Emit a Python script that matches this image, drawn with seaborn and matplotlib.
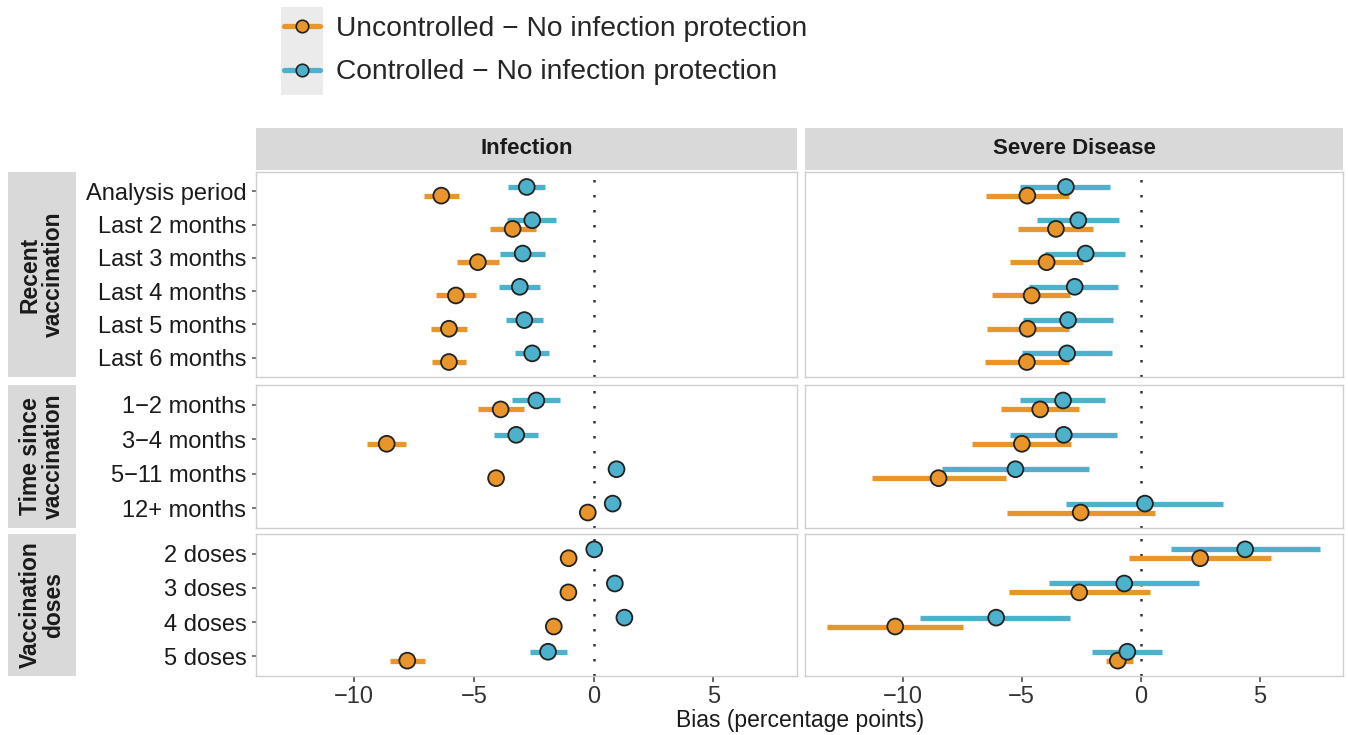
import seaborn as sns
import matplotlib.pyplot as plt
import pandas as pd
import numpy as np
from matplotlib.lines import Line2D
from matplotlib.patches import Rectangle

# Data
labels = ['Analysis period', 'Last 2 months', 'Last 3 months', 'Last 4 months',
          'Last 5 months', 'Last 6 months',
          '1\u22122 months', '3\u22124 months', '5\u221211 months', '12+ months',
          '2 doses', '3 doses', '4 doses', '5 doses']
groups = ['Recent\nvaccination'] * 6 + ['Time since\nvaccination'] * 4 + ['Vaccination\ndoses'] * 4
group_names = ['Recent\nvaccination', 'Time since\nvaccination', 'Vaccination\ndoses']
outcomes = ['Infection', 'Severe Disease']
UNC = 'Uncontrolled \u2212 No infection protection'
CTL = 'Controlled \u2212 No infection protection'

# Infection
inf_unc_est = [-6.36, -3.38, -4.83, -5.75, -6.04, -6.04, -3.88, -8.64, -4.07, -0.24, -1.04, -1.05, -1.66, -7.78]
inf_unc_lo = [-7.08, -4.34, -5.70, -6.56, -6.81, -6.74, -4.83, -9.48, -4.15, -0.32, -1.12, -1.13, -1.74, -8.52]
inf_unc_hi = [-5.60, -2.41, -3.94, -4.93, -5.30, -5.33, -2.89, -7.82, -3.99, -0.16, -0.96, -0.97, -1.58, -7.04]
inf_ctl_est = [-2.79, -2.56, -2.96, -3.08, -2.89, -2.56, -2.39, -3.23, 0.96, 0.80, 0.03, 0.89, 1.29, -1.90]
inf_ctl_lo = [-3.56, -3.60, -3.90, -3.94, -3.67, -3.30, -3.41, -4.15, 0.88, 0.72, -0.05, 0.81, 1.21, -2.64]
inf_ctl_hi = [-2.04, -1.56, -2.04, -2.22, -2.12, -1.85, -1.38, -2.34, 1.04, 0.88, 0.11, 0.97, 1.37, -1.11]

# Severe disease
sev_unc_est = [-4.76, -3.56, -3.95, -4.58, -4.75, -4.78, -4.22, -4.99, -8.49, -2.52, 2.50, -2.58, -10.31, -0.96]
sev_unc_lo = [-6.51, -5.15, -5.49, -6.26, -6.45, -6.53, -5.85, -7.07, -11.30, -5.60, -0.49, -5.55, -13.18, -1.47]
sev_unc_hi = [-3.02, -2.02, -2.42, -2.95, -3.03, -3.03, -2.59, -2.93, -5.67, 0.59, 5.48, 0.40, -7.48, -0.34]
sev_ctl_est = [-3.14, -2.62, -2.31, -2.77, -3.05, -3.09, -3.26, -3.23, -5.26, 0.18, 4.39, -0.69, -6.07, -0.56]
sev_ctl_lo = [-5.05, -4.34, -4.00, -4.68, -4.93, -5.00, -5.08, -5.48, -8.33, -3.14, 1.28, -3.83, -9.25, -2.05]
sev_ctl_hi = [-1.28, -0.93, -0.66, -0.96, -1.15, -1.21, -1.48, -1.00, -2.15, 3.44, 7.54, 2.47, -2.95, 0.91]

sns.set_theme(style='white')
plt.rcParams['font.family'] = ['Liberation Sans', 'DejaVu Sans']

frames = []
for outcome, series, est, lo, hi in [
        ('Infection', UNC, inf_unc_est, inf_unc_lo, inf_unc_hi),
        ('Infection', CTL, inf_ctl_est, inf_ctl_lo, inf_ctl_hi),
        ('Severe Disease', UNC, sev_unc_est, sev_unc_lo, sev_unc_hi),
        ('Severe Disease', CTL, sev_ctl_est, sev_ctl_lo, sev_ctl_hi)]:
    frames.append(pd.DataFrame({'label': labels, 'group': groups, 'outcome': outcome,
                                'series': series, 'est': est, 'lo': lo, 'hi': hi}))
df = pd.concat(frames, ignore_index=True)

colors = {UNC: '#E8952B', CTL: '#4DB1CB'}
offset = {CTL: -0.13, UNC: 0.13}
df['row'] = df.groupby(['outcome', 'series', 'group']).cumcount()
df['ypos'] = df['row'] + df['series'].map(offset)

W, H = 1348, 735
fig = plt.figure(figsize=(W / 100, H / 100), dpi=100)


def box(x0, y0, x1, y1):
    return [x0 / W, 1 - y1 / H, (x1 - x0) / W, (y1 - y0) / H]


cols = [(256, 797), (805, 1343)]
rows = [(172, 377), (385, 528), (534, 676)]
strip_col = '#D9D9D9'

for r, g in enumerate(group_names):
    n = groups.count(g)
    for c, outcome in enumerate(outcomes):
        ax = fig.add_axes(box(cols[c][0], rows[r][0], cols[c][1], rows[r][1]))
        sub = df[(df.group == g) & (df.outcome == outcome)]
        ax.axvline(0, color='#333333', ls=(0, (1, 5)), lw=1.8, zorder=1)
        for series in [UNC, CTL]:
            s = sub[sub.series == series]
            ax.hlines(s.ypos, s.lo, s.hi, color=colors[series], lw=3.8, zorder=2)
        sns.scatterplot(data=sub, x='est', y='ypos', hue='series', palette=colors,
                        s=130, edgecolor='#222222', linewidth=1.3, legend=False,
                        ax=ax, zorder=3)
        ax.set_xlim(-14.1, 8.5)
        ax.set_ylim(n - 1 + 0.58, -0.58)
        ax.set_xticks([-10, -5, 0, 5])
        ax.set_yticks(range(n))
        ax.set_xlabel('')
        ax.set_ylabel('')
        if c == 0:
            ax.set_yticklabels(labels[groups.index(g):groups.index(g) + n], fontsize=17, color='#1a1a1a')
            ax.tick_params(axis='y', left=True, length=3, color='#666666', pad=4)
        else:
            ax.tick_params(axis='y', left=False, labelleft=False)
        if r == 2:
            ax.tick_params(axis='x', bottom=True, length=4, color='#555555', labelsize=17,
                           labelcolor='#333333', pad=3)
        else:
            ax.tick_params(axis='x', bottom=False, labelbottom=False)
        for sp in ax.spines.values():
            sp.set_color('#CFCFCF')
            sp.set_linewidth(1.0)

        # top strips
        if r == 0:
            st = fig.add_axes(box(cols[c][0], 128, cols[c][1], 170))
            st.set_facecolor(strip_col)
            st.set_xticks([])
            st.set_yticks([])
            for sp in st.spines.values():
                sp.set_visible(False)
            st.text(0.5, 0.5, outcome, ha='center', va='center', fontsize=16,
                    fontweight='bold', color='#1a1a1a', transform=st.transAxes)

    # left strips
    ls = fig.add_axes(box(8, rows[r][0], 76, rows[r][1]))
    ls.set_facecolor(strip_col)
    ls.set_xticks([])
    ls.set_yticks([])
    for sp in ls.spines.values():
        sp.set_visible(False)
    ls.text(0.5, 0.5, g, ha='center', va='center', rotation=90, fontsize=16.5,
            fontweight='bold', color='#1a1a1a', multialignment='center',
            linespacing=1.0, transform=ls.transAxes)

# legend
fig.patches.append(Rectangle((281 / W, 1 - 95 / H), 42 / W, 88 / H, transform=fig.transFigure,
                             facecolor='#EBEBEB', edgecolor='none', zorder=0))
handles = [Line2D([0], [0], color=colors[s], lw=3.8, marker='o', markersize=9,
                  markerfacecolor=colors[s], markeredgecolor='#222222', markeredgewidth=1.2)
           for s in [UNC, CTL]]
fig.legend(handles=handles, labels=[UNC, CTL], loc='upper left',
           bbox_to_anchor=(284 / W, 1 - 16 / H), frameon=False, fontsize=20.3,
           handlelength=1.29, handletextpad=0.55, labelspacing=0.62,
           borderpad=0, borderaxespad=0)

fig.text(800 / W, 1 - 720 / H, 'Bias (percentage points)', ha='center', va='center',
         fontsize=16.5, color='#1a1a1a')

plt.savefig('out.png', dpi=100)
